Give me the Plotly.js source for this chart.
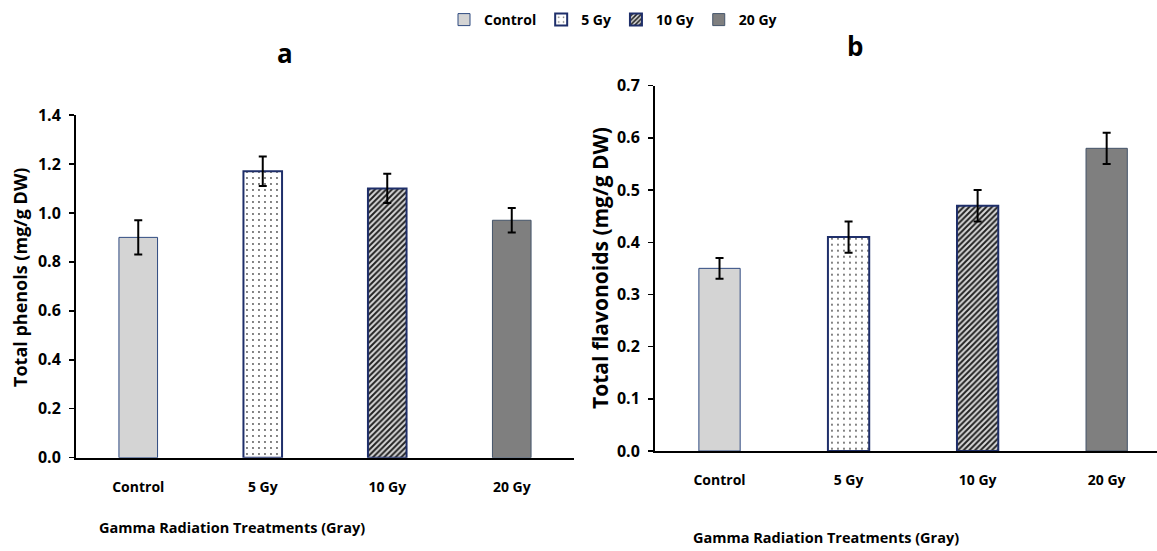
<!DOCTYPE html>
<html><head><meta charset="utf-8">
<script src="https://cdn.plot.ly/plotly-3.0.1.min.js"></script>
<style>html,body{margin:0;padding:0;background:#fff}#chart{width:1157px;height:551px}</style>
</head><body><div id="chart"></div>
<script>
const categories = ["Control", "5 Gy", "10 Gy", "20 Gy"];
const phenols = [0.90, 1.17, 1.10, 0.97];
const phenolsErr = [0.07, 0.06, 0.06, 0.05];
const flavonoids = [0.35, 0.41, 0.47, 0.58];
const flavonoidsErr = [0.02, 0.03, 0.03, 0.03];
const yTicksA = [0, 0.2, 0.4, 0.6, 0.8, 1.0, 1.2, 1.4];
const yTicksB = [0, 0.1, 0.2, 0.3, 0.4, 0.5, 0.6, 0.7];

const FONT = "Open Sans, Noto Sans, sans-serif";
const styles = [
  {color: "#D4D4D4", line: {color: "#2F4A80", width: 1}},
  {color: "#FFFFFF", line: {color: "#1F2F6A", width: 2}, pattern: {shape: ".", fgcolor: "#555555", bgcolor: "#FFFFFF", size: 6, solidity: 0.08}},
  {color: "#FFFFFF", line: {color: "#1F2F6A", width: 2}, pattern: {shape: "/", fgcolor: "#222222", bgcolor: "#D8D8D8", size: 4, solidity: 0.5}},
  {color: "#7F7F7F", line: {color: "#44546A", width: 1}}
];

const traces = [];
function addSet(vals, errs, xa, ya, width, showLegend) {
  categories.forEach((c, i) => {
    const m = {color: styles[i].color, line: styles[i].line};
    if (styles[i].pattern) m.pattern = styles[i].pattern;
    traces.push({
      type: "bar", x: [c], y: [vals[i]], name: c, legendgroup: c,
      showlegend: showLegend, xaxis: xa, yaxis: ya, width: width,
      marker: m,
      error_y: {type: "data", array: [errs[i]], visible: true, color: "#000", thickness: 2, width: 4}
    });
  });
}
addSet(phenols, phenolsErr, "x", "y", 0.31, true);
addSet(flavonoids, flavonoidsErr, "x2", "y2", 0.32, false);

const W = 1157, H = 551;
const px = v => v / W, py = v => 1 - v / H;

const axisX = {
  type: "category", categoryorder: "array", categoryarray: categories,
  showline: true, linecolor: "#000", linewidth: 2, ticks: "", showgrid: false, zeroline: false,
  tickfont: {family: FONT, size: 14, color: "#000", weight: "bold"}, ticklabelstandoff: 15, fixedrange: true
};
const axisY = {
  showline: true, linecolor: "#000", linewidth: 2, ticks: "outside", ticklen: 5, tickwidth: 1.5, tickcolor: "#000",
  showgrid: false, zeroline: false,
  tickfont: {family: FONT, size: 16, color: "#000", weight: "bold"}, ticklabelstandoff: 5, tickformat: ".1f"
};

function ann(text, x, y, size, angle) {
  const a = {text: text, xref: "paper", yref: "paper", x: px(x), y: py(y), xanchor: "center", yanchor: "middle",
    showarrow: false, font: {family: FONT, size: size, color: "#000", weight: "bold"}};
  if (angle) a.textangle = angle;
  return a;
}

const layout = {
  width: W, height: H, margin: {l: 0, r: 0, t: 0, b: 0},
  paper_bgcolor: "#fff", plot_bgcolor: "#fff", barmode: "overlay",
  font: {family: FONT, color: "#000"},
  xaxis: Object.assign({}, axisX, {domain: [px(76), px(574)], anchor: "y", range: [-0.5, 3.5]}),
  yaxis: Object.assign({}, axisY, {domain: [1 - 457.7 / H, 1 - 115 / H], anchor: "x", range: [0, 1.4], tickvals: yTicksA}),
  xaxis2: Object.assign({}, axisX, {domain: [px(655), 1], anchor: "y2", range: [-0.5, 3.39]}),
  yaxis2: Object.assign({}, axisY, {domain: [1 - 451 / H, 1 - 85.7 / H], anchor: "x2", range: [0, 0.7], tickvals: yTicksB}),
  showlegend: true,
  legend: {orientation: "h", x: px(613), xanchor: "center", y: py(4), yanchor: "top",
    font: {family: FONT, size: 14, color: "#000", weight: "bold"}, itemwidth: 30, traceorder: "normal", bgcolor: "rgba(0,0,0,0)"},
  annotations: [
    ann("a", 285, 53, 26),
    ann("b", 855, 46, 26),
    ann("Total phenols (mg/g DW)", 20, 278, 18, -90),
    ann("Total flavonoids (mg/g DW)", 600, 268, 21, -90),
    ann("Gamma Radiation Treatments (Gray)", 232, 527, 14.5),
    ann("Gamma Radiation Treatments (Gray)", 826, 537, 14.5)
  ]
};

Plotly.newPlot("chart", traces, layout, {staticPlot: true, displayModeBar: false});
</script></body></html>
